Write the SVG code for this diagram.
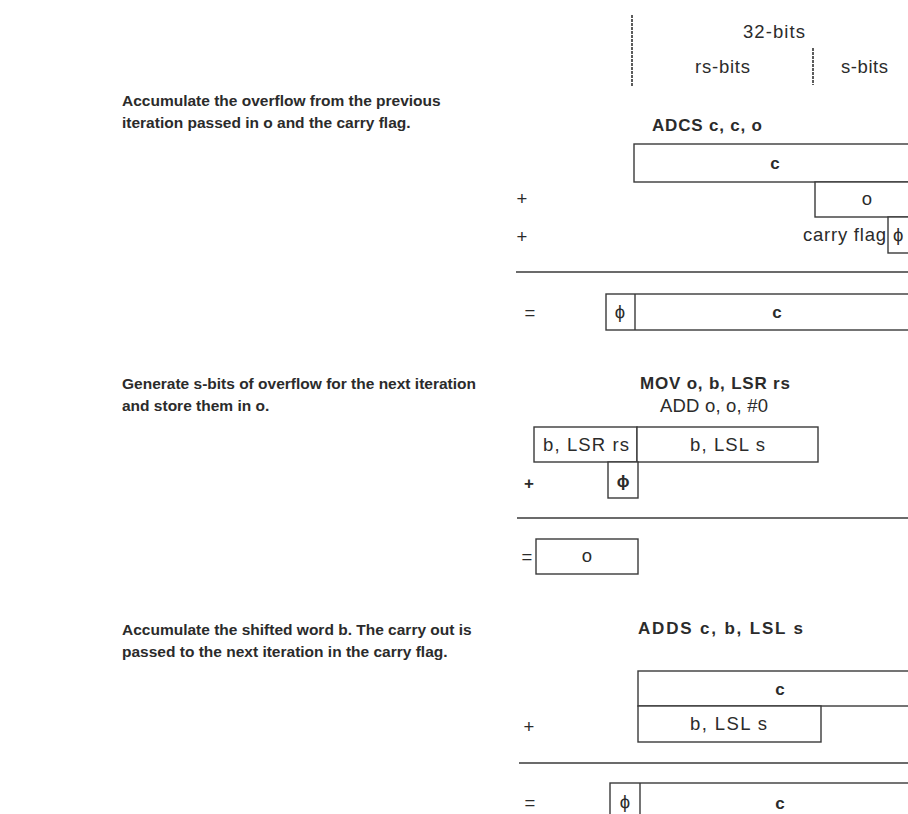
<svg xmlns="http://www.w3.org/2000/svg" width="908" height="814" viewBox="0 0 908 814">
<style>
.b{font-family:"Liberation Sans",Arial,sans-serif;font-weight:bold;font-size:15.5px;fill:#2b2b2b}
.bl{font-family:"Liberation Sans",Arial,sans-serif;font-weight:bold;font-size:17px;fill:#2b2b2b}
.r{font-family:"Liberation Sans",Arial,sans-serif;font-size:18.5px;fill:#2b2b2b}
.m{text-anchor:middle}
.box{fill:#fff;stroke:#3a3a3a;stroke-width:1.4}
.ln{stroke:#3a3a3a;stroke-width:1.4;fill:none}
.dash{stroke:#333;stroke-width:1.6;stroke-dasharray:3 1;fill:none}
</style>
<rect width="908" height="814" fill="#fff"/>

<g id="header">
<line class="dash" x1="632" y1="15" x2="632" y2="86"/>
<line class="dash" x1="813" y1="48" x2="813" y2="85"/>
<text class="r" x="743" y="38" textLength="62">32-bits</text>
<text class="r" x="695" y="73" textLength="55">rs-bits</text>
<text class="r" x="841" y="73" textLength="47">s-bits</text>
</g>

<g id="desc1">
<text class="b" x="122" y="106">Accumulate the overflow from the previous</text>
<text class="b" x="122" y="128">iteration passed in o and the carry flag.</text>
</g>
<g id="desc2">
<text class="b" x="122" y="389">Generate s-bits of overflow for the next iteration</text>
<text class="b" x="122" y="411">and store them in o.</text>
</g>
<g id="desc3">
<text class="b" x="122" y="635">Accumulate the shifted word b. The carry out is</text>
<text class="b" x="122" y="657">passed to the next iteration in the carry flag.</text>
</g>

<g id="step1">
<text class="bl" x="652" y="131" textLength="110">ADCS c, c, o</text>
<rect class="box" x="634" y="144" width="290" height="38"/>
<text class="bl m" x="775" y="169">c</text>
<rect class="box" x="815" y="182" width="110" height="35"/>
<text class="r m" x="867" y="205">o</text>
<rect class="box" x="888" y="217" width="40" height="36"/>
<text class="r" x="803" y="241" textLength="83">carry flag</text>
<text class="r" x="893" y="241">ϕ</text>
<text class="r m" x="522" y="205" fill="#888">+</text>
<text class="r m" x="522" y="243">+</text>
<line class="ln" x1="516" y1="272" x2="908" y2="272"/>
<text class="r m" x="530" y="319">=</text>
<rect class="box" x="606" y="294" width="330" height="36"/>
<line class="ln" x1="635" y1="294" x2="635" y2="330"/>
<text class="r m" x="620" y="318">ϕ</text>
<text class="bl m" x="777" y="318">c</text>
</g>

<g id="step2">
<text class="bl" x="640" y="389" textLength="150">MOV o, b, LSR rs</text>
<text class="r" x="660" y="412" textLength="108">ADD o, o, #0</text>
<rect class="box" x="534" y="427" width="103" height="35"/>
<rect class="box" x="637" y="427" width="181" height="35"/>
<text class="r" x="543" y="451" textLength="86">b, LSR rs</text>
<text class="r" x="690" y="451" textLength="75">b, LSL s</text>
<text class="bl m" x="529" y="489">+</text>
<rect class="box" x="608" y="462" width="30" height="36"/>
<text class="bl m" x="623" y="487">ϕ</text>
<line class="ln" x1="517" y1="518" x2="908" y2="518"/>
<text class="r m" x="527" y="563">=</text>
<rect class="box" x="536" y="539" width="102" height="35"/>
<text class="r m" x="587" y="562">o</text>
</g>

<g id="step3">
<text class="bl" x="638" y="634" textLength="165">ADDS c, b, LSL s</text>
<rect class="box" x="638" y="671" width="290" height="35"/>
<text class="bl m" x="780" y="695">c</text>
<rect class="box" x="638" y="706" width="183" height="36"/>
<text class="r" x="690" y="730" textLength="77">b, LSL s</text>
<text class="r m" x="529" y="733">+</text>
<line class="ln" x1="519" y1="763" x2="908" y2="763"/>
<text class="r m" x="530" y="809">=</text>
<rect class="box" x="610" y="783" width="330" height="50"/>
<line class="ln" x1="640" y1="783" x2="640" y2="814"/>
<text class="r m" x="625" y="808">ϕ</text>
<text class="bl m" x="780" y="809">c</text>
</g>
</svg>
